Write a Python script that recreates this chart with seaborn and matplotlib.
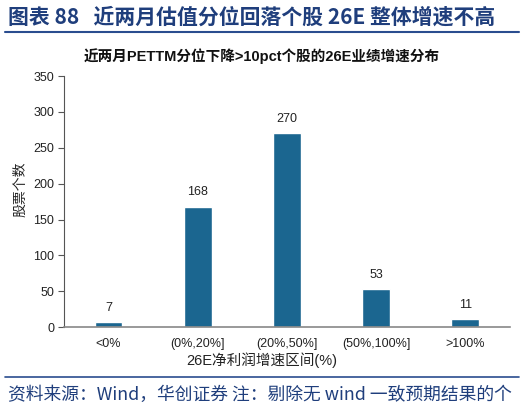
import matplotlib
matplotlib.use("Agg")
import matplotlib.pyplot as plt
import seaborn as sns
import pandas as pd
import numpy as np
from matplotlib.lines import Line2D

categories = ["<0%", "(0%,20%]", "(20%,50%]", "(50%,100%]", ">100%"]
counts = [7, 168, 270, 53, 11]
yticks = [0, 50, 100, 150, 200, 250, 300, 350]

title = "图表 88   近两月估值分位回落个股 26E 整体增速不高"
subtitle = "近两月PETTM分位下降>10pct个股的26E业绩增速分布"
ylabel = "股票个数"
xlabel = "26E净利润增速区间(%)"
footer = "资料来源：Wind，华创证券 注：剔除无 wind 一致预期结果的个"

sns.set_theme(style="white")
plt.rcParams['font.family'] = ['Liberation Sans', 'Noto Sans CJK SC', 'DejaVu Sans']
cjk = ['Noto Sans CJK SC', 'DejaVu Sans']

df = pd.DataFrame({"cat": categories, "n": counts})

fig = plt.figure(figsize=(5.24, 4.09), dpi=100)
ax = fig.add_axes([0.122, 0.200, 0.851, 0.614])
sns.barplot(data=df, x="cat", y="n", color="#1b6690", saturation=1, width=0.31, ax=ax)

for i, v in enumerate(counts):
    ax.annotate(str(v), (i, v), xytext=(0, 6), textcoords="offset points",
                ha="center", va="bottom", fontsize=9, color="#222222")

ax.set_ylim(0, 350)
ax.set_xlim(-0.5, 4.5)
ax.set_yticks(yticks)
ax.set_yticklabels([str(t) for t in yticks], fontsize=9, color="#222222")
ax.set_xticks(range(len(categories)))
ax.set_xticklabels(categories, fontsize=9, color="#222222")
ax.set_xticks(np.arange(-0.5, 5, 1), minor=True)
ax.tick_params(axis="x", which="major", length=0, pad=8)
ax.tick_params(axis="x", which="minor", length=4, direction="out", color="#555555", width=0.8)
ax.tick_params(axis="y", length=4, direction="out", color="#555555", width=0.8, left=True, pad=3)
for s in ["top", "right"]:
    ax.spines[s].set_visible(False)
ax.spines["left"].set_color("#555555")
ax.spines["bottom"].set_color("#888888")
ax.spines["left"].set_linewidth(0.8)
ax.spines["bottom"].set_linewidth(1.2)

ax.set_ylabel(ylabel, fontsize=10, family=cjk, color="#222222")
ax.yaxis.set_label_coords(-0.083, 0.55)
ax.set_xlabel(xlabel, fontsize=10.5, color="#222222")
ax.xaxis.set_label_coords(0.443, -0.1)

fig.text(0.015, 0.958, title, fontsize=15, fontweight="bold", family=cjk,
         color="#1f3e7c", ha="left", va="center")
fig.add_artist(Line2D([0.01, 0.99], [0.922, 0.922], transform=fig.transFigure,
                      color="#2a4d8f", lw=1.5))
fig.text(0.5, 0.863, subtitle, fontsize=10.5, fontweight="bold",
         color="#111111", ha="center", va="center")
fig.add_artist(Line2D([0.01, 0.99], [0.078, 0.078], transform=fig.transFigure,
                      color="#2a4d8f", lw=1.2))
fig.text(0.015, 0.034, footer, fontsize=12.8, style="italic", family=cjk,
         color="#1f3e7c", ha="left", va="center")

fig.savefig("out.png", dpi=100)
